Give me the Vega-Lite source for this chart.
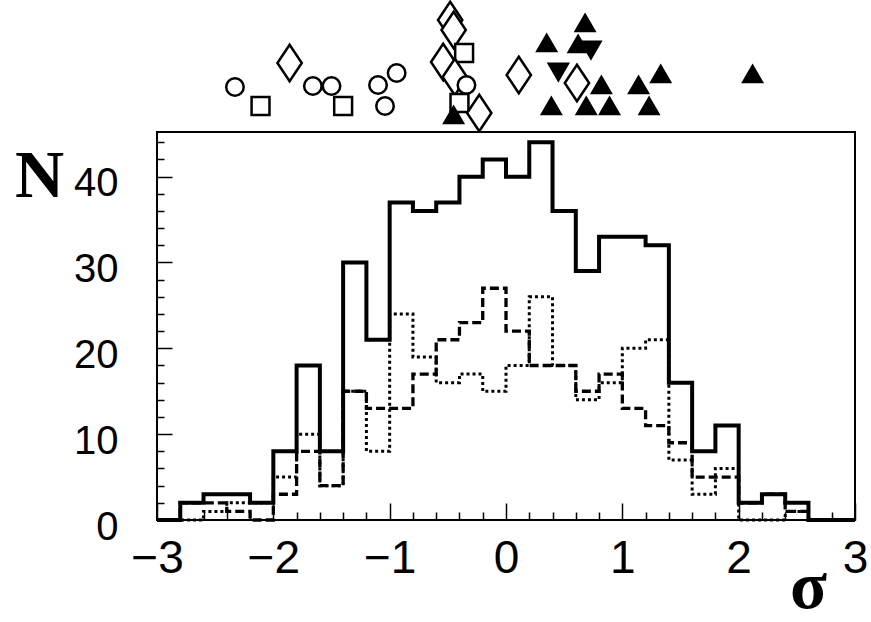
{
  "$schema": "https://vega.github.io/schema/vega-lite/v6.json",
  "background": "white",
  "padding": {"left": 13, "top": 0, "right": 0, "bottom": 0},
  "spacing": 0,
  "config": {"view": {"stroke": null}, "axis": {"grid": false}},
  "datasets": {
    "hist": [
      {"lo": -3.0, "solid": 0, "dashed": 0, "dotted": 0},
      {"lo": -2.8, "solid": 2, "dashed": 2, "dotted": 0},
      {"lo": -2.6, "solid": 3, "dashed": 2, "dotted": 1},
      {"lo": -2.4, "solid": 3, "dashed": 1, "dotted": 2},
      {"lo": -2.2, "solid": 2, "dashed": 0, "dotted": 2},
      {"lo": -2.0, "solid": 8, "dashed": 3, "dotted": 5},
      {"lo": -1.8, "solid": 18, "dashed": 8, "dotted": 10},
      {"lo": -1.6, "solid": 8, "dashed": 4, "dotted": 4},
      {"lo": -1.4, "solid": 30, "dashed": 15, "dotted": 15},
      {"lo": -1.2, "solid": 21, "dashed": 13, "dotted": 8},
      {"lo": -1.0, "solid": 37, "dashed": 13, "dotted": 24},
      {"lo": -0.8, "solid": 36, "dashed": 17, "dotted": 19},
      {"lo": -0.6, "solid": 37, "dashed": 21, "dotted": 16},
      {"lo": -0.4, "solid": 40, "dashed": 23, "dotted": 17},
      {"lo": -0.2, "solid": 42, "dashed": 27, "dotted": 15},
      {"lo": 0.0, "solid": 40, "dashed": 22, "dotted": 18},
      {"lo": 0.2, "solid": 44, "dashed": 18, "dotted": 26},
      {"lo": 0.4, "solid": 36, "dashed": 18, "dotted": 18},
      {"lo": 0.6, "solid": 29, "dashed": 15, "dotted": 14},
      {"lo": 0.8, "solid": 33, "dashed": 17, "dotted": 16},
      {"lo": 1.0, "solid": 33, "dashed": 13, "dotted": 20},
      {"lo": 1.2, "solid": 32, "dashed": 11, "dotted": 21},
      {"lo": 1.4, "solid": 16, "dashed": 9, "dotted": 7},
      {"lo": 1.6, "solid": 8, "dashed": 5, "dotted": 3},
      {"lo": 1.8, "solid": 11, "dashed": 5, "dotted": 6},
      {"lo": 2.0, "solid": 2, "dashed": 2, "dotted": 0},
      {"lo": 2.2, "solid": 3, "dashed": 3, "dotted": 0},
      {"lo": 2.4, "solid": 2, "dashed": 1, "dotted": 1},
      {"lo": 2.6, "solid": 0, "dashed": 0, "dotted": 0},
      {"lo": 2.8, "solid": 0, "dashed": 0, "dotted": 0},
      {"lo": 3.0, "solid": 0, "dashed": 0, "dotted": 0}
    ],
    "marks": [
      {"sigma": -2.33, "level": 4.4, "type": "circle"},
      {"sigma": -2.11, "level": 2.5, "type": "square"},
      {"sigma": -1.86, "level": 6.8, "type": "diamond"},
      {"sigma": -1.66, "level": 4.5, "type": "circle"},
      {"sigma": -1.50, "level": 4.5, "type": "circle"},
      {"sigma": -1.40, "level": 2.5, "type": "square"},
      {"sigma": -1.10, "level": 4.6, "type": "circle"},
      {"sigma": -0.94, "level": 5.8, "type": "circle"},
      {"sigma": -1.04, "level": 2.5, "type": "circle"},
      {"sigma": -0.48, "level": 11.1, "type": "diamond"},
      {"sigma": -0.45, "level": 10.1, "type": "diamond"},
      {"sigma": -0.36, "level": 7.8, "type": "square"},
      {"sigma": -0.54, "level": 6.9, "type": "diamond"},
      {"sigma": -0.44, "level": 5.4, "type": "diamond"},
      {"sigma": -0.34, "level": 4.6, "type": "circle"},
      {"sigma": -0.40, "level": 2.8, "type": "square"},
      {"sigma": -0.45, "level": 1.6, "type": "triangle-up"},
      {"sigma": -0.23, "level": 1.8, "type": "diamond"},
      {"sigma": 0.11, "level": 5.6, "type": "diamond"},
      {"sigma": 0.35, "level": 8.8, "type": "triangle-up"},
      {"sigma": 0.68, "level": 10.8, "type": "triangle-up"},
      {"sigma": 0.62, "level": 8.7, "type": "triangle-up"},
      {"sigma": 0.73, "level": 8.1, "type": "triangle-down"},
      {"sigma": 0.45, "level": 5.9, "type": "triangle-down"},
      {"sigma": 0.61, "level": 4.8, "type": "diamond"},
      {"sigma": 0.82, "level": 4.6, "type": "triangle-up"},
      {"sigma": 0.39, "level": 2.5, "type": "triangle-up"},
      {"sigma": 0.69, "level": 2.5, "type": "triangle-up"},
      {"sigma": 0.89, "level": 2.5, "type": "triangle-up"},
      {"sigma": 1.14, "level": 4.6, "type": "triangle-up"},
      {"sigma": 1.33, "level": 5.7, "type": "triangle-up"},
      {"sigma": 1.23, "level": 2.5, "type": "triangle-up"},
      {"sigma": 2.12, "level": 5.7, "type": "triangle-up"}
    ]
  },
  "vconcat": [
    {
      "width": 698,
      "height": 131,
      "data": {"name": "marks"},
      "mark": {"type": "point", "filled": true, "clip": true, "stroke": "black", "strokeWidth": 2.5, "opacity": 1, "fillOpacity": 1},
      "encoding": {
        "x": {"field": "sigma", "type": "quantitative", "scale": {"domain": [-3, 3], "nice": false, "zero": false}, "axis": null},
        "y": {"field": "level", "type": "quantitative", "scale": {"domain": [0, 13.1], "nice": false, "zero": false}, "axis": null},
        "shape": {"field": "type", "type": "nominal", "legend": null,
          "scale": {"domain": ["circle", "square", "diamond", "triangle-up", "triangle-down"],
                    "range": ["circle", "square", "M0,-2L1.333,0L0,2L-1.333,0Z", "triangle-up", "triangle-down"]}},
        "fill": {"field": "type", "type": "nominal", "legend": null,
          "scale": {"domain": ["circle", "square", "diamond", "triangle-up", "triangle-down"],
                    "range": ["white", "white", "white", "black", "black"]}},
        "size": {"field": "type", "type": "nominal", "legend": null,
          "scale": {"domain": ["circle", "square", "diamond", "triangle-up", "triangle-down"],
                    "range": [306, 361, 841, 320, 320]}}
      }
    },
    {
      "width": 698,
      "height": 388,
      "data": {"name": "hist"},
      "view": {"stroke": "black", "strokeWidth": 2},
      "layer": [
        {
          "mark": {"type": "line", "interpolate": "step-after", "color": "black", "strokeWidth": 3, "strokeDash": [3, 3], "strokeCap": "butt"},
          "encoding": {
            "x": {"field": "lo", "type": "quantitative", "scale": {"domain": [-3, 3], "nice": false, "zero": false},
              "axis": {"orient": "bottom", "values": [-3, -2, -1, 0, 1, 2, 3], "tickSize": -17, "tickWidth": 1.5, "tickColor": "black",
                "domain": false, "grid": false, "labelFont": "Liberation Sans", "labelFontSize": 46, "labelColor": "black",
                "labelPadding": 33, "labelFlush": false, "labelOverlap": false,
                "title": "σ", "titleFont": "Liberation Serif", "titleFontSize": 68, "titleFontWeight": "bold", "titleColor": "black",
                "titleX": 651, "titleY": 87, "titleAlign": "center", "titleBaseline": "alphabetic", "titleAnchor": null}},
            "y": {"field": "dotted", "type": "quantitative", "scale": {"domain": [0, 45.2], "nice": false, "zero": false},
              "axis": {"orient": "left", "values": [0, 10, 20, 30, 40], "tickSize": -15, "tickWidth": 1.5, "tickColor": "black",
                "domain": false, "grid": false, "labelFont": "Liberation Sans", "labelFontSize": 40, "labelColor": "black",
                "labelPadding": 54, "labelBaseline": "middle", "labelOffset": 7, "labelOverlap": false, "labelFlush": false,
                "title": "N", "titleFont": "Liberation Serif", "titleFontSize": 68, "titleFontWeight": "bold", "titleColor": "black",
                "titleAngle": 0, "titleX": -118, "titleY": 64, "titleAlign": "center", "titleBaseline": "alphabetic", "titleAnchor": null}}
          }
        },
        {
          "mark": {"type": "line", "interpolate": "step-after", "color": "black", "strokeWidth": 3.3, "strokeDash": [9, 4], "strokeCap": "butt"},
          "encoding": {
            "x": {"field": "lo", "type": "quantitative", "scale": {"domain": [-3, 3], "nice": false, "zero": false},
              "axis": {"orient": "bottom", "values": [-2.8, -2.6, -2.4, -2.2, -1.8, -1.6, -1.4, -1.2, -0.8, -0.6, -0.4, -0.2, 0.2, 0.4, 0.6, 0.8, 1.2, 1.4, 1.6, 1.8, 2.2, 2.4, 2.6, 2.8],
                "tickSize": -8, "tickWidth": 1.5, "tickColor": "black", "domain": false, "grid": false, "labels": false, "title": null}},
            "y": {"field": "dashed", "type": "quantitative", "scale": {"domain": [0, 45.2], "nice": false, "zero": false},
              "axis": {"orient": "left", "values": [2, 4, 6, 8, 12, 14, 16, 18, 22, 24, 26, 28, 32, 34, 36, 38, 42, 44],
                "tickSize": -7, "tickWidth": 1.5, "tickColor": "black", "domain": false, "grid": false, "labels": false, "title": null}}
          }
        },
        {
          "mark": {"type": "line", "interpolate": "step-after", "color": "black", "strokeWidth": 4, "strokeCap": "butt"},
          "encoding": {
            "x": {"field": "lo", "type": "quantitative", "scale": {"domain": [-3, 3], "nice": false, "zero": false}, "axis": null},
            "y": {"field": "solid", "type": "quantitative", "scale": {"domain": [0, 45.2], "nice": false, "zero": false}, "axis": null}
          }
        }
      ],
      "resolve": {"axis": {"x": "independent", "y": "independent"}}
    }
  ]
}
